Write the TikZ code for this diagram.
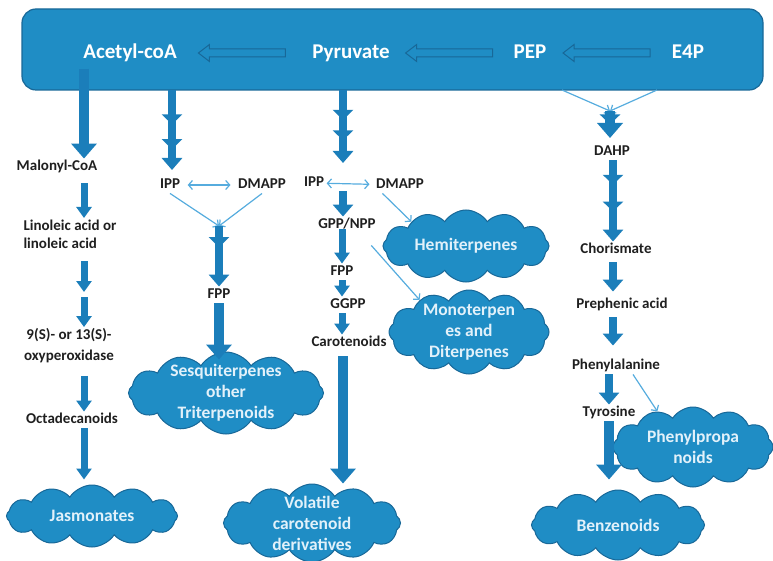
\documentclass[tikz,border=0pt]{standalone}
\usepackage{fontspec}
\setmainfont{Carlito}
\usetikzlibrary{arrows.meta,shapes.symbols,shapes.arrows,decorations.markings}

\definecolor{barblue}{RGB}{31,141,197}
\definecolor{edgeblue}{RGB}{24,104,152}
\definecolor{arrblue}{RGB}{27,126,186}
\definecolor{lineblue}{RGB}{86,172,222}
\definecolor{puffwhite}{RGB}{226,241,250}

\tikzset{
  lbl/.style={font=\fontsize{15}{18}\selectfont\bfseries, text=black!88, inner sep=1.5pt, text height=10.5pt, text depth=3pt},
  lbltwo/.style={font=\fontsize{15}{#1}\selectfont\bfseries, text=black!88, inner sep=1.5pt, align=center},
  barlbl/.style={font=\fontsize{21}{25}\selectfont\bfseries, text=white, inner sep=1.5pt, text height=14.7pt, text depth=4.2pt},
  bar/.style={rectangle, rounded corners=14pt, draw=edgeblue, fill=barblue, line width=1.2pt},
  hollow/.style={single arrow, shape border rotate=180, draw=edgeblue, fill=barblue, line width=1pt, minimum height=87pt, minimum width=17pt, inner sep=3.5pt, single arrow head extend=4.5pt, single arrow tip angle=75},
  puff/.style={cloud, cloud puffs=12, cloud puff arc=115, cloud ignores aspect, draw=edgeblue, fill=barblue, line width=1pt, text=puffwhite, align=center, inner xsep=0pt, inner ysep=-10pt, font=\fontsize{17.5}{21}\selectfont\bfseries},
  bigarr/.style={draw=arrblue, line width=10pt, -{Triangle[width=25pt,length=15pt]}},
  midarr/.style={draw=arrblue, line width=8pt, -{Triangle[width=20pt,length=12pt]}},
  smallarr/.style={draw=arrblue, line width=7pt, -{Triangle[width=15pt,length=11pt]}},
  chev/.style={postaction={decorate, decoration={markings, mark=at position #1 with {\arrow{Triangle[width=20pt,length=10pt]}}}}},
  thinarr/.style={draw=lineblue, line width=1.2pt, -{Straight Barb[length=4pt,width=9pt]}},
  twoway/.style={thinarr, {Straight Barb[length=4pt,width=9pt]}-{Straight Barb[length=4pt,width=9pt]}}
}

\begin{document}
\begin{tikzpicture}[x=1pt, y=-1pt]
\useasboundingbox (0,0) rectangle (773,561);

% top bar
\node[bar, minimum width=741pt, minimum height=81pt] (bar) at (392.5,49.5) {};
\node[barlbl] (acetyl) at (130,53) {Acetyl-coA};
\node[barlbl] (pyr) at (351,53) {Pyruvate};
\node[barlbl] (pep) at (530,53) {PEP};
\node[barlbl] (e4p) at (688,53) {E4P};

% labels
\node[lbl] (malonyl) at (57,167) {Malonyl-CoA};
\node[lbltwo=18, align=left] (linoleic) at (70,234) {Linoleic acid or\\linoleic acid};
\node[lbltwo=21] (oxy) at (69,346) {9(S)- or 13(S)-\\oxyperoxidase};
\node[lbl] (octa) at (72,420) {Octadecanoids};
\node[lbl] (ipp1) at (170,185) {IPP};
\node[lbl] (dmapp1) at (262,185) {DMAPP};
\node[lbl] (fpp1) at (219,295) {FPP};
\node[lbl] (ipp2) at (314,183) {IPP};
\node[lbl] (dmapp2) at (400,185) {DMAPP};
\node[lbl] (gpp) at (347,225) {GPP/NPP};
\node[lbl] (fpp2) at (342,272) {FPP};
\node[lbl] (ggpp) at (348,305) {GGPP};
\node[lbl] (carot) at (349,343) {Carotenoids};
\node[lbl] (dahp) at (612,152) {DAHP};
\node[lbl] (chor) at (616,250) {Chorismate};
\node[lbl] (preph) at (622,305) {Prephenic acid};
\node[lbl] (phenyl) at (616,366) {Phenylalanine};
\node[lbl] (tyro) at (609,413) {Tyrosine};

% products
\node[puff, minimum width=171pt, minimum height=62pt] (jasm) at (92,516) {Jasmonates};
\node[puff, minimum width=195pt, minimum height=82pt] (sesq) at (226,393) {Sesquiterpenes\\other\\Triterpenoids};
\node[puff, minimum width=166pt, minimum height=72pt] (hemi) at (466,246) {Hemiterpenes};
\node[puff, minimum width=160pt, minimum height=84pt] (mono) at (469,332) {Monoterpen\\es and\\Diterpenes};
\node[puff, minimum width=177pt, minimum height=78pt] (volat) at (312,523) {Volatile\\carotenoid\\derivatives};
\node[puff, minimum width=160pt, minimum height=80pt] (phpr) at (693,447) {Phenylpropa\\noids};
\node[puff, minimum width=173pt, minimum height=70pt] (benz) at (618,525) {Benzenoids};

\coordinate (src1) at (84,69);
\coordinate (src2) at (172,90);
\coordinate (tip2) at (172,170);
\coordinate (src3) at (343,90);
\coordinate (tip3) at (343,163);
\coordinate (gap1) at (84,295);
\coordinate (join1) at (219,226);
\coordinate (fork1) at (562,90);
\coordinate (fork2) at (657,90);
\coordinate (join2) at (610,111);
\coordinate (tip4) at (610,138);
\coordinate (col4) at (613,0);

% arrows in the bar
\path (pyr.west) -- node[hollow] (h1) {} (acetyl.east);
\path (pep.west) -- node[hollow] (h2) {} (pyr.east);
\path (e4p.west) -- node[hollow] (h3) {} (pep.east);

% fatty acid branch
\draw[bigarr] (src1) -- (src1 |- malonyl.north);
\draw[smallarr, shorten <=8pt] (src1 |- malonyl.south) -- (src1 |- linoleic.north);
\draw[smallarr, shorten <=11pt, shorten >=3pt] (src1 |- linoleic.south) -- (gap1);
\draw[smallarr, shorten <=2pt] (gap1) -- (src1 |- oxy.north);
\draw[smallarr, shorten <=11pt] (src1 |- oxy.south) -- (src1 |- octa.north);
\draw[smallarr, shorten >=5pt] (src1 |- octa.south) -- (src1 |- jasm.north);

% sesquiterpene branch
\draw[midarr, chev=0.43, chev=0.74] (src2) -- (tip2);
\draw[twoway, shorten <=6pt, shorten >=6pt] (ipp1) -- (dmapp1);
\draw[thinarr] (ipp1.south) -- (join1);
\draw[thinarr] (dmapp1.south) -- (join1);
\draw[midarr, chev=0.35] (join1) -- (fpp1.north);
\draw[bigarr, shorten >=-8pt] (fpp1.south) -- (fpp1 |- sesq.north);

% plastid branch
\draw[midarr, chev=0.41, chev=0.69] (src3) -- (tip3);
\draw[twoway, shorten <=1pt, shorten >=5pt] (ipp2) -- (dmapp2);
\draw[thinarr] ([xshift=8pt]dmapp2.south west) -- (hemi.156);
\draw[midarr] (src3 |- ipp2.south) -- (src3 |- gpp.north);
\draw[smallarr, shorten <=4pt] (fpp2 |- gpp) -- (fpp2.north);
\draw[thinarr] ([xshift=-6pt,yshift=-12pt]gpp.south east) -- (mono.147);
\draw[smallarr] (fpp2.south) -- (fpp2 |- ggpp.north);
\draw[smallarr] (fpp2 |- ggpp.south) -- (fpp2 |- carot.north);
\draw[bigarr, shorten <=5pt] (src3 |- carot.south) -- (src3 |- volat.north);

% shikimate branch
\draw[thinarr] (fork1) -- (join2);
\draw[thinarr] (fork2) -- (join2);
\draw[bigarr, chev=0.5] (join2) -- (tip4);
\draw[midarr, chev=0.3, chev=0.63] (dahp.south -| col4) -- (chor.north -| col4);
\draw[midarr, shorten <=4pt, shorten >=5pt] (chor.south -| col4) -- (preph.north -| col4);
\draw[midarr, shorten <=4pt, shorten >=12pt] (preph.south -| col4) -- (phenyl.north -| col4);
\draw[midarr] (phenyl.south -| tyro) -- (tyro.north);
\draw[thinarr] ([xshift=17pt]phenyl.south) -- (phpr.135);
\draw[bigarr, shorten >=10pt] (tyro.south) -- (tyro |- benz.north);
\end{tikzpicture}
\end{document}
